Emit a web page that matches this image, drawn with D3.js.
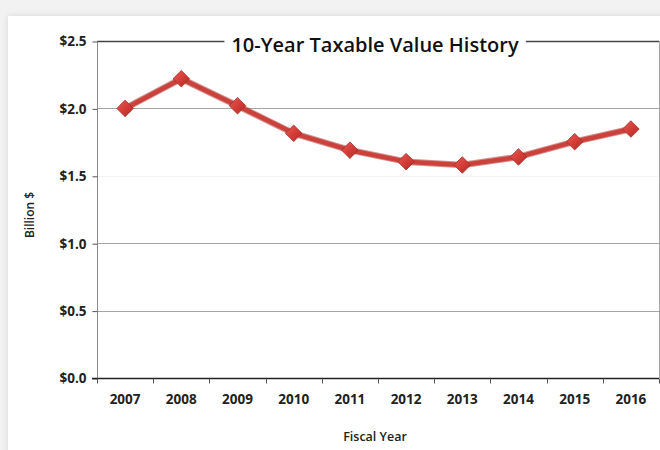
<!DOCTYPE html>
<html>
<head>
<meta charset="utf-8">
<script src="https://cdn.jsdelivr.net/npm/d3@7"></script>
<style>
  html, body { margin: 0; padding: 0; background: #f2f2f2; overflow: hidden; }
  svg { display: block; }
</style>
</head>
<body>
<svg id="chart" width="660" height="450"></svg>
<script>
// Taxable value by fiscal year, in billions of dollars
const years = ["2007", "2008", "2009", "2010", "2011", "2012", "2013", "2014", "2015", "2016"];
const taxableValue = [2.00, 2.22, 2.02, 1.815, 1.69, 1.605, 1.58, 1.64, 1.753, 1.847];
const yTicks = [0, 0.5, 1.0, 1.5, 2.0, 2.5];
const chartTitle = "10-Year Taxable Value History";
const xTitle = "Fiscal Year";
const yTitle = "Billion $";

const svg = d3.select("#chart");
const W = 660, H = 450;
const plot = { left: 97, right: 659, top: 41, bottom: 378 };
const font = "'Open Sans', 'DejaVu Sans', sans-serif";

// page card
const defs = svg.append("defs");
const shadow = defs.append("filter").attr("id", "cardShadow").attr("x", "-5%").attr("y", "-5%").attr("width", "110%").attr("height", "110%");
shadow.append("feGaussianBlur").attr("in", "SourceAlpha").attr("stdDeviation", 3);
shadow.append("feOffset").attr("dx", 0).attr("dy", 0).attr("result", "b");
shadow.append("feComponentTransfer").append("feFuncA").attr("type", "linear").attr("slope", 0.12);
const merge = shadow.append("feMerge");
merge.append("feMergeNode");
merge.append("feMergeNode").attr("in", "SourceGraphic");

svg.append("rect").attr("width", W).attr("height", H).attr("fill", "#f2f2f2");
svg.append("rect")
  .attr("x", 8).attr("y", 16).attr("width", W + 20).attr("height", H + 20)
  .attr("fill", "#ffffff").attr("filter", "url(#cardShadow)");

const x = d3.scaleBand().domain(years).range([plot.left, plot.right]).padding(0);
const y = d3.scaleLinear().domain([0, 2.5]).range([plot.bottom, plot.top]);

// horizontal gridlines
svg.append("g").selectAll("line")
  .data(yTicks.filter(v => v > 0))
  .join("line")
  .attr("x1", plot.left).attr("x2", plot.right)
  .attr("y1", d => Math.round(y(d)) + 0.5).attr("y2", d => Math.round(y(d)) + 0.5)
  .attr("stroke", d => d === 2.5 ? "#444" : (d === 1.5 ? "#f4f4f4" : "#a6a6a6"))
  .attr("stroke-width", d => d === 2.5 ? 1.3 : 1);

// right border of the plot area
svg.append("line")
  .attr("x1", plot.right + 0.5).attr("x2", plot.right + 0.5)
  .attr("y1", plot.top).attr("y2", plot.bottom)
  .attr("stroke", "#a6a6a6");

// y axis
const yAxis = d3.axisLeft(y).tickValues(yTicks).tickSize(5).tickPadding(6)
  .tickFormat(d => "$" + d3.format(".1f")(d));
const gy = svg.append("g").attr("transform", `translate(${plot.left + 0.5},0.5)`).call(yAxis);
gy.select(".domain").attr("stroke", "#8c8c8c").attr("d", `M0,${plot.top}V${plot.bottom}`);
gy.selectAll(".tick line").attr("stroke", "#555");
gy.selectAll(".tick text")
  .attr("font-family", font).attr("font-weight", 700).attr("font-size", 13.5)
  .attr("fill", "#222");

// x axis with ticks at category boundaries
const gx = svg.append("g").attr("transform", `translate(0,${plot.bottom + 0.5})`);
gx.append("line").attr("x1", plot.left - 5).attr("x2", plot.right)
  .attr("stroke", "#222").attr("stroke-width", 1.3);
const bounds = years.map(d => x(d)).concat([plot.right]);
gx.selectAll("line.tk").data(bounds).join("line").attr("class", "tk")
  .attr("x1", d => Math.round(d) + 0.5).attr("x2", d => Math.round(d) + 0.5)
  .attr("y1", 0).attr("y2", 5).attr("stroke", "#555");
gx.selectAll("text").data(years).join("text")
  .attr("x", d => x(d) + x.bandwidth() / 2).attr("y", 25)
  .attr("text-anchor", "middle")
  .attr("font-family", font).attr("font-weight", 700).attr("font-size", 13.5)
  .attr("fill", "#222")
  .text(d => d);

// axis titles
svg.append("text")
  .attr("x", 375).attr("y", 441)
  .attr("text-anchor", "middle")
  .attr("font-family", font).attr("font-weight", 600).attr("font-size", 12.5)
  .attr("fill", "#222").text(xTitle);
svg.append("text")
  .attr("transform", "translate(34,215) rotate(-90)")
  .attr("text-anchor", "middle")
  .attr("font-family", font).attr("font-weight", 600).attr("font-size", 12)
  .attr("fill", "#222").text(yTitle);

// chart title on a white box over the top gridline
const titleGroup = svg.append("g");
const titleBox = titleGroup.append("rect").attr("fill", "#fff");
const title = titleGroup.append("text")
  .attr("x", 375).attr("y", 52)
  .attr("text-anchor", "middle")
  .attr("font-family", font).attr("font-weight", 600).attr("font-size", 20)
  .attr("fill", "#111").text(chartTitle);
const bb = title.node().getBBox();
titleBox
  .attr("x", bb.x - 7).attr("y", bb.y).attr("width", bb.width + 14).attr("height", bb.height);

// the series line
const pts = years.map((d, i) => [x(d) + x.bandwidth() / 2, y(taxableValue[i])]);
svg.append("path")
  .attr("d", d3.line()(pts))
  .attr("fill", "none")
  .attr("stroke", "#a93530").attr("stroke-width", 6.5)
  .attr("stroke-linejoin", "round").attr("stroke-opacity", 0.55);
svg.append("path")
  .attr("d", d3.line()(pts))
  .attr("fill", "none")
  .attr("stroke", "#cc413b").attr("stroke-width", 4.5)
  .attr("stroke-linejoin", "round");

// diamond markers
const grad = defs.append("linearGradient").attr("id", "diamondFill")
  .attr("x1", "0").attr("y1", "0").attr("x2", "1").attr("y2", "1");
grad.append("stop").attr("offset", "0%").attr("stop-color", "#e65a52");
grad.append("stop").attr("offset", "55%").attr("stop-color", "#d23b35");
grad.append("stop").attr("offset", "100%").attr("stop-color", "#ac2b27");

const diamond = d3.symbol().type(d3.symbolDiamond2).size(175);
svg.append("g").selectAll("path")
  .data(pts)
  .join("path")
  .attr("transform", d => `translate(${d[0]},${d[1]})`)
  .attr("d", diamond)
  .attr("fill", "url(#diamondFill)")
  .attr("stroke", "#a52d29").attr("stroke-width", 0.8);
</script>
</body>
</html>
